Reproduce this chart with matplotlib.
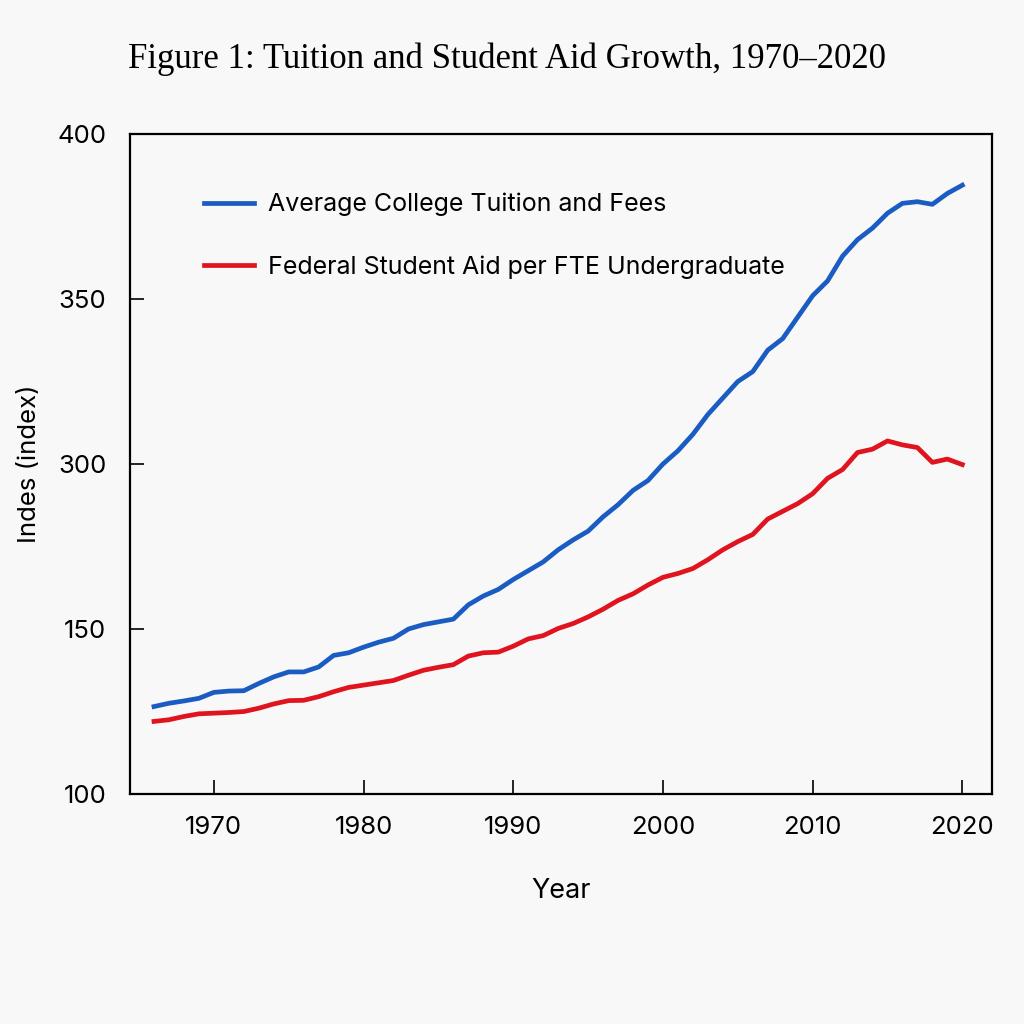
import matplotlib
matplotlib.use('Agg')
import matplotlib.pyplot as plt
import numpy as np

# data
years = list(range(1966, 2021))
tuition = [126.5, 127.5, 128.2, 129.0, 130.8, 131.2, 131.3, 133.5, 135.5, 137.0,
           137.0, 138.5, 142.0, 142.8, 144.5, 146.0, 147.2, 150.0, 154.0, 156.5,
           159.0, 172.0, 180.0, 186.0, 195.0, 203.0, 211.0, 222.0, 231.0, 239.0,
           252.0, 263.0, 276.0, 285.0, 300.0, 304.0, 309.0, 315.0, 320.0, 325.0,
           328.0, 334.5, 338.0, 344.5, 351.0, 355.5, 363.0, 368.0, 371.5, 376.0,
           379.0, 379.5, 378.7, 382.0, 384.5]
aid = [122.0, 122.5, 123.5, 124.3, 124.5, 124.7, 125.0, 126.0, 127.3, 128.3,
       128.4, 129.5, 131.0, 132.3, 133.0, 133.7, 134.4, 136.0, 137.5, 138.4,
       139.2, 141.8, 142.8, 143.0, 144.8, 147.0, 148.0, 150.5, 155.0, 161.0,
       168.0, 176.0, 182.0, 190.0, 197.0, 200.5, 205.0, 213.0, 222.0, 229.5,
       236.0, 250.0, 257.0, 264.0, 273.0, 287.0, 295.0, 303.5, 304.5, 307.0,
       305.8, 305.0, 300.5, 301.5, 299.5]

x_ticks = [1970, 1980, 1990, 2000, 2010, 2020]
y_ticks = [100, 150, 300, 350, 400]
series_names = ['Average College Tuition and Fees',
                'Federal Student Aid per FTE Undergraduate']

# the axis spaces its labels evenly, so map them piecewise
pos = np.arange(len(y_ticks))


def fwd(v):
    return np.interp(v, y_ticks, pos)


def inv(p):
    return np.interp(p, pos, y_ticks)


plt.rcParams['font.family'] = ['Inter', 'DejaVu Sans']
bg = '#f8f8f8'

fig = plt.figure(figsize=(10.24, 10.24), dpi=100)
fig.patch.set_facecolor(bg)
ax = fig.add_axes([0.127, 0.2246, 0.842, 0.6445])
ax.set_facecolor(bg)

ax.plot(years, tuition, color='#1a5cc2', lw=3.4, label=series_names[0])
ax.plot(years, aid, color='#e0141e', lw=3.4, label=series_names[1])

ax.set_yscale('function', functions=(fwd, inv))
ax.set_ylim(100, 400)
ax.set_yticks(y_ticks)
ax.set_yticklabels([str(t) for t in y_ticks])
ax.set_xlim(1964.4, 2022.0)
ax.set_xticks(x_ticks)
ax.minorticks_off()

ax.tick_params(direction='in', length=10, width=1.2, labelsize=18.5)
ax.tick_params(axis='x', pad=16)
ax.tick_params(axis='y', pad=17)
for s in ax.spines.values():
    s.set_linewidth(1.6)

ax.set_xlabel('Year', fontsize=19.5, labelpad=28)
ax.set_ylabel('Indes (index)', fontsize=18.5, labelpad=12)

leg = ax.legend(loc='upper left', bbox_to_anchor=(0.06, 0.945), frameon=False,
                fontsize=18, handlelength=2.0, handletextpad=0.55, labelspacing=1.55)

fig.text(0.495, 0.942, 'Figure 1: Tuition and Student Aid Growth, 1970\u20132020',
         ha='center', va='center', fontsize=25, family=['Liberation Serif', 'DejaVu Serif'])

plt.savefig('out.png', dpi=100, facecolor=fig.get_facecolor())
